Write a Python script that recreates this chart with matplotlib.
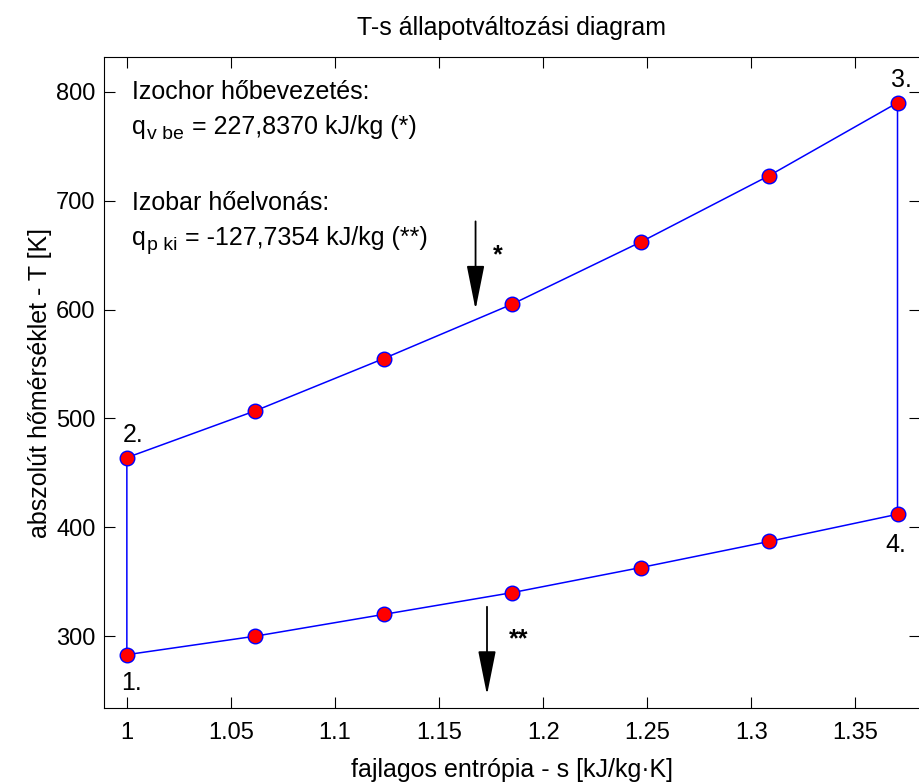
import numpy as np
import matplotlib
matplotlib.use("Agg")
import matplotlib.pyplot as plt

plt.rcParams['font.family'] = ['Liberation Sans', 'DejaVu Sans']

# izochor hobevezetes (2 -> 3)
s_v = [1.0, 1.0617, 1.1234, 1.1851, 1.2468, 1.3085, 1.3702]
T_v = [464, 507, 555, 605, 662, 723, 790]
# izobar hoelvonas (4 -> 1), listed from 1 to 4
s_p = [1.0, 1.0617, 1.1234, 1.1851, 1.2468, 1.3085, 1.3702]
T_p = [283, 300, 320, 340, 363, 387, 412]

state_labels = ['1.', '2.', '3.', '4.']
yticks = [300, 400, 500, 600, 700, 800]
xticks = [1, 1.05, 1.1, 1.15, 1.2, 1.25, 1.3, 1.35]

fig = plt.figure(figsize=(9.2, 7.82), dpi=100)
ax = fig.add_axes([0.113, 0.0946, 0.887, 0.8325])

# closed cycle 1-2-3-4-1
s_cyc = s_v + s_p[::-1]
T_cyc = T_v + T_p[::-1]
s_cyc.append(s_v[0])
T_cyc.append(T_v[0])
ax.plot(s_cyc, T_cyc, color='blue', lw=1.1, zorder=2)
ax.plot(s_v + s_p, T_v + T_p, 'o', color='red', mec='blue', mew=1.0, ms=10.5, zorder=3)

fs = 18
# state numbers
ax.text(s_p[0] + 0.002, T_p[0] - 15, state_labels[0], fontsize=fs, ha='center', va='top')
ax.text(s_v[0] + 0.003, T_v[0] + 10, state_labels[1], fontsize=fs, ha='center', va='bottom')
ax.text(s_v[-1] + 0.002, T_v[-1] + 10, state_labels[2], fontsize=fs, ha='center', va='bottom')
ax.text(s_p[-1] - 0.001, T_p[-1] - 17, state_labels[3], fontsize=fs, ha='center', va='top')


def q_line(y, sub, rest):
    tq = ax.text(1.0025, y, 'q', fontsize=fs, va='center')
    ts = ax.annotate(sub, xy=(1, 0), xycoords=tq, xytext=(0.5, -3),
                     textcoords='offset points', fontsize=14, va='bottom')
    ax.annotate(rest, xy=(1, 0), xycoords=(ts, tq), xytext=(1, 0),
                textcoords='offset points', fontsize=fs, va='bottom')


# info texts
ax.text(1.0025, 800, 'Izochor hőbevezetés:', fontsize=fs, va='center')
q_line(768, 'v be', ' = 227,8370 kJ/kg (*)')
ax.text(1.0025, 698, 'Izobar hőelvonás:', fontsize=fs, va='center')
q_line(666, 'p ki', ' = -127,7354 kJ/kg (**)')

# arrows
arrow = dict(arrowstyle='-|>,head_length=1.1,head_width=0.22', color='black',
             lw=1.3, mutation_scale=25, shrinkA=0, shrinkB=0)
ax.annotate('', xy=(1.1675, 600), xytext=(1.1675, 681), arrowprops=arrow)
ax.text(1.178, 650, '*', fontsize=18, ha='center', va='center', fontweight='bold')
ax.annotate('', xy=(1.173, 246), xytext=(1.173, 327), arrowprops=arrow)
ax.text(1.188, 297, '**', fontsize=18, ha='center', va='center', fontweight='bold')

ax.set_xlim(0.989, 1.381)
ax.set_ylim(234, 832)
ax.set_xticks(xticks)
ax.set_xticklabels(['1', '1.05', '1.1', '1.15', '1.2', '1.25', '1.3', '1.35'])
ax.set_yticks(yticks)
ax.tick_params(direction='in', length=8, top=True, right=True, labelsize=17)
ax.tick_params(axis='x', pad=10)
ax.tick_params(axis='y', pad=6)

ax.set_title('T-s állapotváltozási diagram', fontsize=fs, pad=16)
ax.set_xlabel('fajlagos entrópia - s [kJ/kg·K]', fontsize=fs, labelpad=10)
ax.set_ylabel('abszolút hőmérséklet - T [K]', fontsize=fs, labelpad=3)

fig.savefig('out.png', dpi=100)
